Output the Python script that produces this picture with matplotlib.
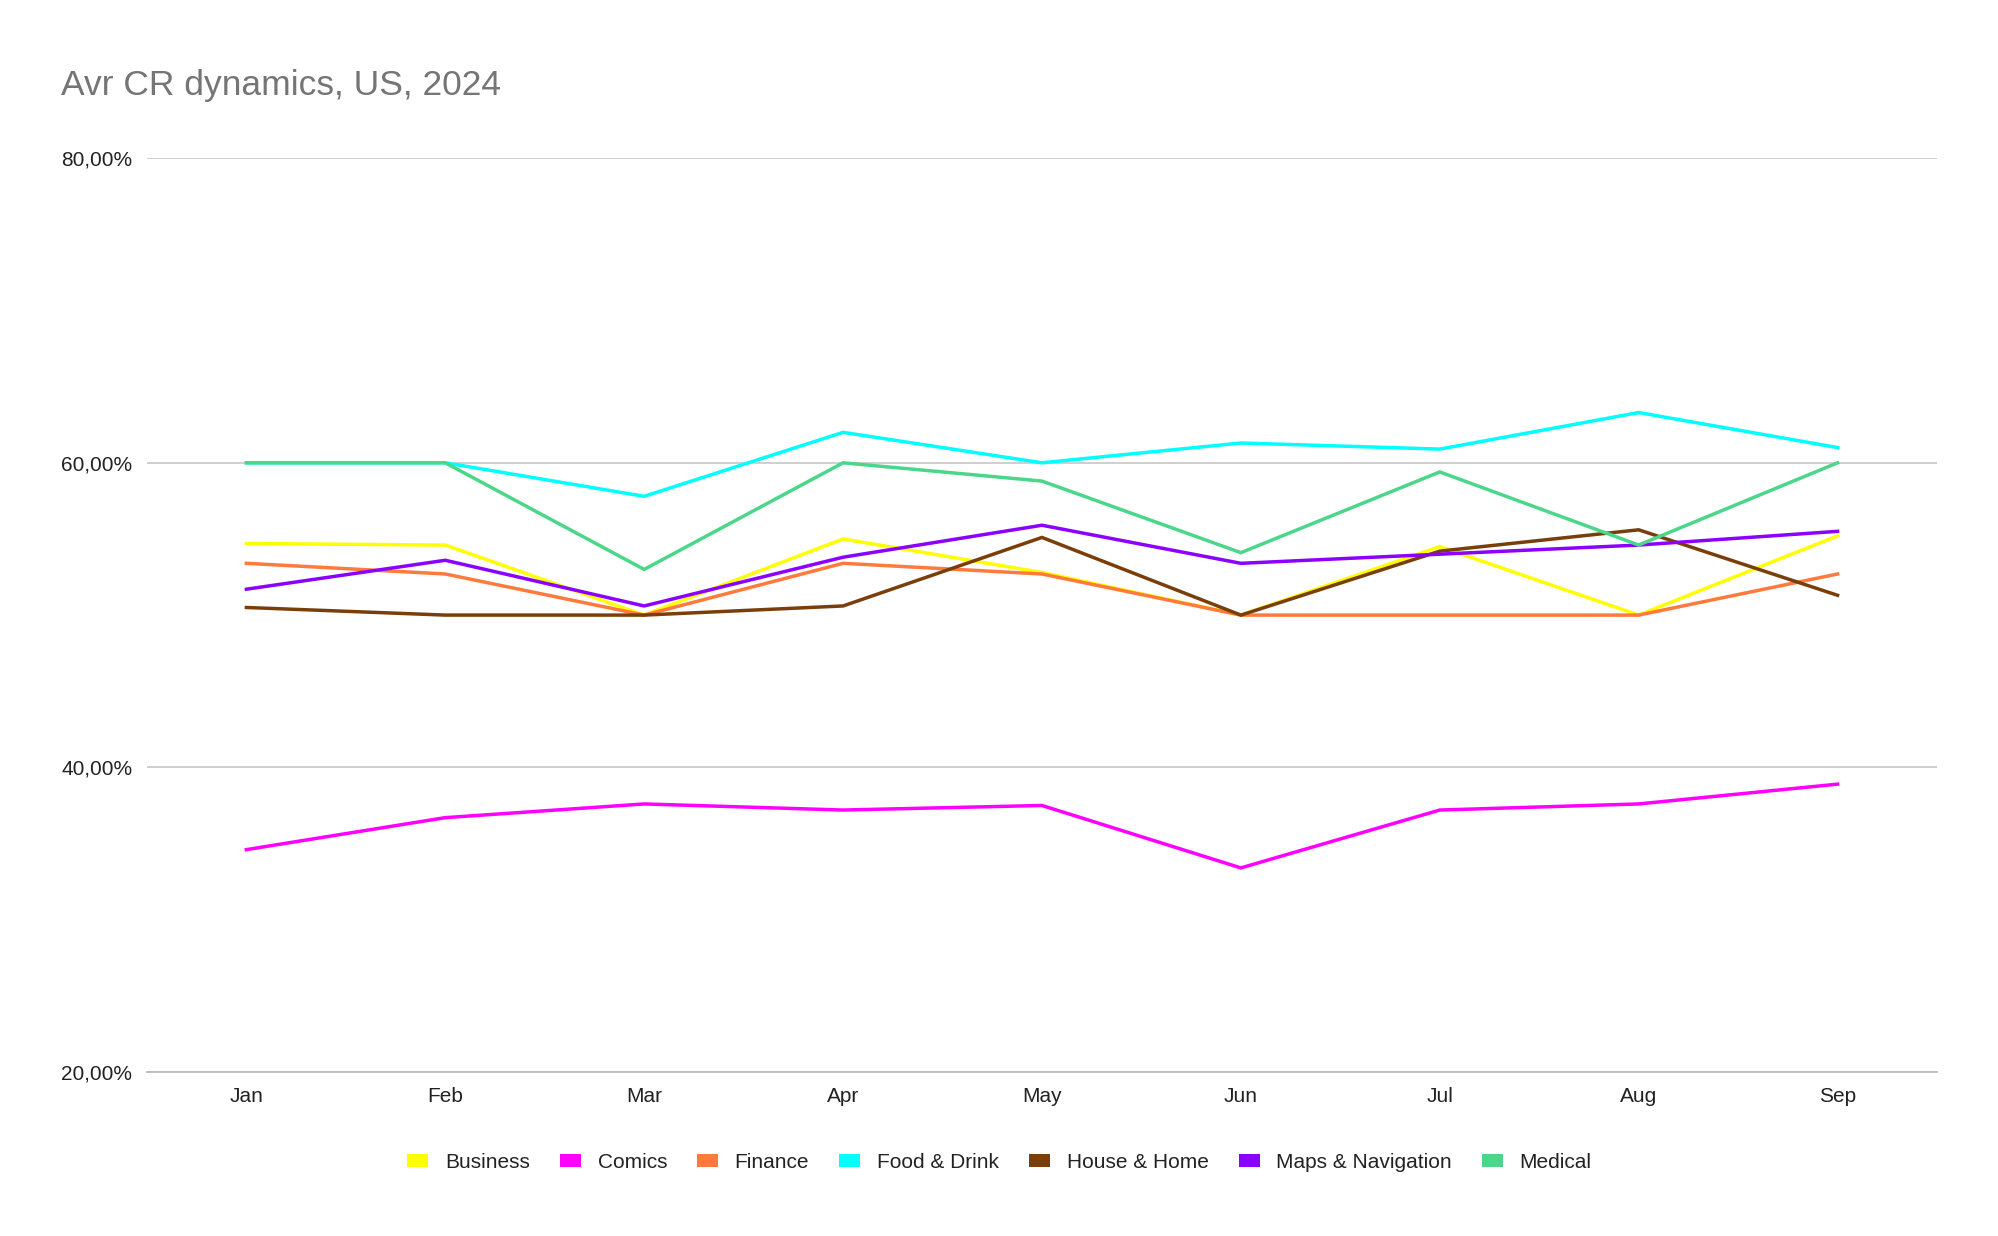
import matplotlib
matplotlib.use("Agg")
from matplotlib import pyplot as plt
from matplotlib.patches import Patch
from matplotlib.ticker import FuncFormatter

plt.rcParams['font.family'] = ['Liberation Sans', 'DejaVu Sans']

months = ["Jan", "Feb", "Mar", "Apr", "May", "Jun", "Jul", "Aug", "Sep"]

business = [54.7, 54.6, 50.0, 55.0, 52.8, 50.0, 54.5, 50.0, 55.2]
comics = [34.6, 36.7, 37.6, 37.2, 37.5, 33.4, 37.2, 37.6, 38.9]
finance = [53.4, 52.7, 50.0, 53.4, 52.7, 50.0, 50.0, 50.0, 52.7]
food_drink = [60.0, 60.0, 57.8, 62.0, 60.0, 61.3, 60.9, 63.3, 61.0]
house_home = [50.5, 50.0, 50.0, 50.6, 55.1, 50.0, 54.2, 55.6, 51.3]
maps_nav = [51.7, 53.6, 50.6, 53.8, 55.9, 53.4, 54.0, 54.6, 55.5]
medical = [60.0, 60.0, 53.0, 60.0, 58.8, 54.1, 59.4, 54.6, 60.0]

series = [
    ("Business", business, "#ffff00"),
    ("Comics", comics, "#ff00ff"),
    ("Finance", finance, "#ff7a3c"),
    ("Food & Drink", food_drink, "#00ffff"),
    ("House & Home", house_home, "#7a3e0a"),
    ("Maps & Navigation", maps_nav, "#8b00ff"),
    ("Medical", medical, "#4cd68a"),
]

fig = plt.figure(figsize=(19.99, 12.36), dpi=100)
ax = fig.add_axes([0.0735, 0.1327, 0.8955, 0.7393])

x = list(range(len(months)))
for name, vals, col in series:
    ax.plot(x, vals, color=col, linewidth=2.5, label=name, solid_joinstyle="miter")

ax.set_xlim(-0.5, len(months) - 0.5)
ax.set_ylim(20, 80)
ax.set_yticks([20, 40, 60, 80])
ax.yaxis.set_major_formatter(FuncFormatter(lambda v, p: ("%.2f" % v).replace(".", ",") + "%"))
ax.set_xticks(x)
ax.set_xticklabels(months)
ax.tick_params(axis="both", length=0, labelsize=15, labelcolor="#222222")
ax.tick_params(axis="y", pad=10.5)
ax.tick_params(axis="x", pad=10.5)
ax.grid(axis="y", color="#cccccc", linewidth=1.3)
ax.set_axisbelow(True)
for s in ["top", "right", "left"]:
    ax.spines[s].set_visible(False)
ax.spines["bottom"].set_color("#bbbbbb")
ax.spines["bottom"].set_linewidth(1.3)

fig.text(0.0305, 0.931, "Avr CR dynamics, US, 2024", fontsize=25.5, color="#757575",
         ha="left", va="center")

handles = [Patch(facecolor=col, edgecolor="none", label=name) for name, vals, col in series]
fig.legend(handles=handles, loc="center", bbox_to_anchor=(0.5, 0.0595), ncol=7,
           frameon=False, fontsize=15, handlelength=1.0, handleheight=0.6,
           handletextpad=0.8, columnspacing=1.45, labelcolor="#222222")

fig.savefig("out.png", dpi=100, facecolor="white")
